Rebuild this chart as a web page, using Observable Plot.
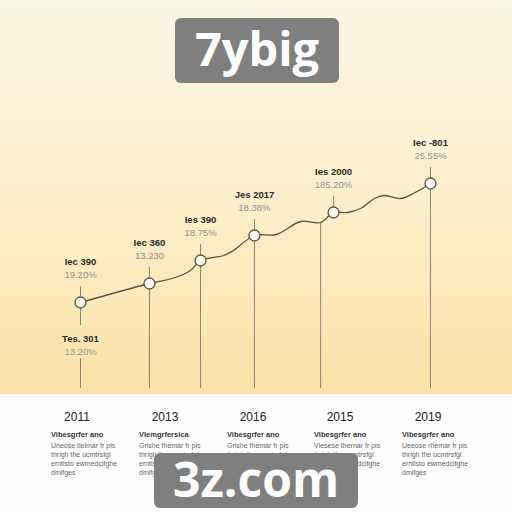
<!DOCTYPE html>
<html>
<head>
<meta charset="utf-8">
<script src="https://cdn.jsdelivr.net/npm/d3@7"></script>
<script src="https://cdn.jsdelivr.net/npm/@observablehq/plot@0.6"></script>
<style>
  html,body{margin:0;padding:0;background:#fff;}
  #wrap{position:relative;width:512px;height:512px;overflow:hidden;background:#fefefe;font-family:"Liberation Sans",Arial,sans-serif;}
  #bg{position:absolute;left:0;top:0;width:512px;height:394px;background:linear-gradient(#fbf7e6 0%,#fcefcc 50%,#fbe3a8 100%);}
  #chart{position:absolute;left:0;top:0;}
  #chart svg{background:transparent;}
  .badge{position:absolute;background:#7f7f7f;color:#fff;font-family:"Open Sans",Roboto,sans-serif;font-weight:700;border-radius:6px;text-align:center;}
  #title{left:175px;top:18px;width:164px;height:65px;font-size:47px;line-height:60px;}
  #mark{left:154px;top:453px;width:204px;height:55px;font-size:48px;line-height:52px;}
  .col{position:absolute;top:410px;width:80px;}
  .yr{font-size:12px;color:#222;text-align:center;width:52px;}
  .hd{font-size:7.5px;font-weight:700;color:#333;margin-top:6px;}
  .ds{font-size:7px;color:#666;line-height:9px;margin-top:2px;}
</style>
</head>
<body>
<div id="wrap">
  <div id="bg"></div>
  <div id="chart"></div>
  <div id="title" class="badge">7ybig</div>
  <div id="cols"></div>
  <div id="mark" class="badge">3z.com</div>
</div>
<script>
// Milestone points (position along the timeline, value)
const pointPos   = [0, 1.97, 3.43, 4.97, 7.23, 10];
const pointValue = [86, 105, 128, 153, 176, 205];
const labelTop   = ["Iec 390", "Iec 360", "Ies 390", "Jes 2017", "Ies 2000", "Iec -801"];
const labelSub   = ["19.20%", "13.230", "18.75%", "18.38%", "185.20%", "25.55%"];

// Lower label on the first milestone
const lowerTop = ["Tes. 301"];
const lowerSub = ["13.20%"];

// Shape of the connecting curve
const curvePos   = [0, 1.97, 2.71, 3.14, 3.43, 4.09, 4.37, 4.97, 5.6, 6.29, 6.86, 7.23, 7.63, 8.0, 8.4, 8.66, 9.14, 9.51, 10];
const curveValue = [86, 105, 111, 118, 128, 133, 138, 153, 154, 167, 166, 176, 176, 180, 190, 193, 190, 195, 205];

// Vertical drop lines (position, top value)
const dropPos   = [1.97, 3.43, 4.97, 6.86, 10];
const dropValue = [105, 128, 153, 166, 205];

// Bottom timeline
const years = ["2011", "2013", "2016", "2015", "2019"];
const heads = ["Vibesgrfer ano", "Vlemgrfersica", "Vibesgrfer ano", "Vibesgrfer ano", "Vibesgrfer ano"];
const descs = [
  ["Uneose tlelmar fr pis", "thrigh the ucmtrsfgl", "erntlsto ewmedcifghe", "dmifges"],
  ["Grishe fhemar fr pis", "thrigh the ucmtrsfgl", "erntlsto ewmedcifghe", "dmifges"],
  ["Grishe fhemar fr pis", "thrigh the ucmtrsfgl", "erntlsto ewmedcifghe", "dmifges"],
  ["Vlesese thernar fr pis", "thrigh the ucmtrsfgl", "erntlsto ewmedcifghe", "dmifges"],
  ["Ueeose rhemar fr pis", "thrigh the ucmtrsfgl", "erntlsto ewmedcifghe", "dmifges"]
];
const colCenter = [77, 165, 253, 340, 428];

const points = pointPos.map((p, i) => ({p, v: pointValue[i], top: labelTop[i], sub: labelSub[i]}));
const curve = curvePos.map((p, i) => ({p, v: curveValue[i]}));
const drops = dropPos.map((p, i) => ({p, v: dropValue[i]}));
const lower = lowerTop.map((t, i) => ({p: pointPos[0], v: pointValue[0], top: t, sub: lowerSub[i]}));

const ruleColor = "#8c8474";
const font = "Liberation Sans, Arial, sans-serif";
const chart = Plot.plot({
  width: 512,
  height: 394,
  marginTop: 0, marginRight: 0, marginBottom: 0, marginLeft: 0,
  x: {domain: [0, 10], range: [80, 430], axis: null},
  y: {domain: [0, 205], range: [388, 183], axis: null},
  style: {background: "transparent"},
  marks: [
    Plot.ruleX(drops, {x: "p", y1: 0, y2: "v", stroke: ruleColor, strokeWidth: 1}),
    Plot.ruleX(lower, {x: "p", y1: 0, y2: 30, stroke: ruleColor, strokeWidth: 1}),
    Plot.ruleX(lower, {x: "p", y1: 63, y2: d => d.v, stroke: ruleColor, strokeWidth: 1}),
    Plot.ruleX(points, {x: "p", y1: "v", y2: d => d.v + 16, stroke: ruleColor, strokeWidth: 1}),
    Plot.line(curve, {x: "p", y: "v", curve: "catmull-rom", stroke: "#5b5244", strokeWidth: 1.3}),
    Plot.dot(points, {x: "p", y: "v", r: 5.5, fill: "#fffdf6", stroke: "#5b5244", strokeWidth: 1.3}),
    Plot.text(points, {x: "p", y: "v", text: "top", dy: -41, fontSize: 9.5, fontWeight: "bold", fill: "#2b2b2b", fontFamily: font}),
    Plot.text(points, {x: "p", y: "v", text: "sub", dy: -28, fontSize: 9.5, fill: "#909090", fontFamily: font}),
    Plot.text(lower, {x: "p", y: "v", text: "top", dy: 36, fontSize: 9.5, fontWeight: "bold", fill: "#2b2b2b", fontFamily: font}),
    Plot.text(lower, {x: "p", y: "v", text: "sub", dy: 49, fontSize: 9.5, fill: "#909090", fontFamily: font})
  ]
});
document.getElementById("chart").appendChild(chart);

const cols = document.getElementById("cols");
years.forEach((y, i) => {
  const c = document.createElement("div");
  c.className = "col";
  c.style.left = (colCenter[i] - 26) + "px";
  c.innerHTML = `<div class="yr">${y}</div><div class="hd">${heads[i]}</div><div class="ds">${descs[i].join("<br>")}</div>`;
  cols.appendChild(c);
});
</script>
</body>
</html>
